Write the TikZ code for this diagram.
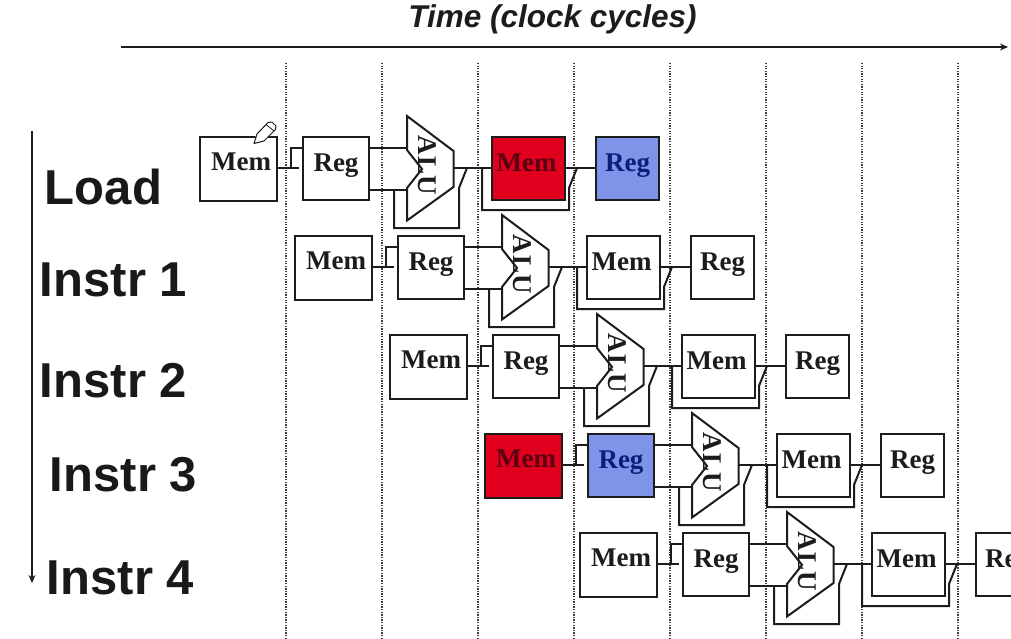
\documentclass[tikz,border=0pt]{standalone}
\usepackage{fontspec}
\setmainfont{Liberation Serif}
\newfontfamily\hdfont{Liberation Sans}
\newfontfamily\alufont[LetterSpace=5]{Liberation Serif}
\definecolor{ink}{HTML}{1C1C1C}
\definecolor{memred}{HTML}{E0001E}
\definecolor{regblue}{HTML}{7F93E8}
\definecolor{redtxt}{HTML}{5A0012}
\definecolor{bluetxt}{HTML}{0C1F78}
\tikzset{
  wire/.style={draw=ink,line width=2pt,line join=miter},
  stage/.style={draw=ink,line width=2pt,inner sep=0pt,outer sep=0pt,fill=white},
  memwide/.style={stage,minimum width=77,minimum height=64},
  regwide/.style={stage,minimum width=66,minimum height=63},
  memnar/.style={stage,minimum width=73,minimum height=63},
  regnar/.style={stage,minimum width=63,minimum height=63},
  lab/.style={font=\bfseries\fontsize{27}{27}\selectfont,inner sep=0pt,text=ink},
  alulab/.style={font=\alufont\bfseries\fontsize{27}{27}\selectfont,inner sep=0pt,text=ink},
  rowlab/.style={font=\hdfont\bfseries\fontsize{49}{49}\selectfont,inner sep=0pt,text=black!90},
  tick/.style={draw=ink!85,line width=2pt,dash pattern=on 1.3pt off 1.3pt},
  axis/.style={draw=ink,line width=1.5pt,-{Stealth[length=8pt,width=7pt]}},
}
\usetikzlibrary{arrows.meta}
% #1 name, #2 dx, #3 dy, #4 first mem fill, #5 mem text, #6 first reg fill, #7 reg text, #8 second mem fill, #9 second mem text
\newcommand{\pipeRow}[9]{%
\begin{scope}[shift={(#2,#3)}]
  \node[memwide,fill=#4] (m#1) at (238.5,169) {};
  \node[lab,text=#5] (mt#1) at (241,162) {Mem};
  \node[regwide,fill=#6] (r#1) at (336,168.5) {};
  \node[lab,text=#7] (rt#1) at (336,166) {Reg};
  \coordinate (ain#1) at (407,148);
  \coordinate (bin#1) at (407,190);
  \coordinate (aout#1) at (453.5,168);
  \coordinate (tap#1) at (291,168);
  \coordinate (stub#1) at (299,168);
  \coordinate (fa#1) at (394,190);
  \coordinate (fb#1) at (467,168);
  \coordinate (ga#1) at (482,168);
  \coordinate (gb#1) at (577,168);
  \node[memnar,fill=#8] (mm#1) at (528.5,168.5) {};
  \node[lab,text=#9] (mmt#1) at (526.5,162.5) {Mem};
  \draw[wire] (m#1.east |- tap#1) -- (stub#1);
  \draw[wire] (tap#1) -- (291,148) -- (r#1.west |- ain#1);
  \draw[wire] (r#1.east |- ain#1) -- (ain#1);
  \draw[wire] (r#1.east |- bin#1) -- (bin#1);
  \draw[wire] (fa#1) -- (394,228) -- (459,228) -- (459,188) -- (fb#1);
  \draw[wire] (407,116) -- (453.5,151) -- (453.5,187) -- (407,220.5) -- (407,188) -- (422,169) -- (407,150) -- cycle;
  \node[alulab,rotate=-90] (alu#1) at (427,165.5) {ALU};
  \draw[wire] (aout#1) -- (mm#1.west |- aout#1);
  \draw[wire] (ga#1) -- (482,210) -- (569,210) -- (569,188) -- (gb#1);
\end{scope}}
\newcommand{\lastReg}[6]{%
\begin{scope}[shift={(#2,#3)}]
  \node[regnar,fill=#4] (rr#1) at (627.5,168.5) {};
  \node[lab,text=#5] (rrt#1) at (627.5,166) {Reg};
  \draw[wire] (mm#1.east |- aout#1) -- (rr#1.west |- aout#1);
\end{scope}}
\begin{document}
\begin{tikzpicture}[x=1pt,y=-1pt]
\useasboundingbox (0,0) rectangle (1011,639);
\clip (0,0) rectangle (1011,639);
\fill[white] (0,0) rectangle (1011,639);
\foreach \px in {286,382,478,574,670,766,862,958}
  \draw[tick] (\px,63) -- (\px,639);
\node[font=\hdfont\bfseries\itshape\fontsize{31.5}{32}\selectfont,inner sep=0pt,text=ink] (title) at (552.5,19) {Time (clock cycles)};
\coordinate (tstart) at (121,47);
\coordinate (tend) at (1008,47);
\draw[axis] (tstart) -- (tend);
\coordinate (istart) at (32,131);
\coordinate (iend) at (32,583);
\draw[axis] (istart) -- (iend);
\node[rowlab,anchor=center] (l0) at (103.5,187) {Load};
\node[rowlab,anchor=center] (l1) at (113.5,279.5) {Instr 1};
\node[rowlab,anchor=center] (l2) at (113.5,380.5) {Instr 2};
\node[rowlab,anchor=center] (l3) at (123.5,474.5) {Instr 3};
\node[rowlab,anchor=center] (l4) at (120.5,578) {Instr 4};
\pipeRow{0}{0}{0}{white}{ink}{white}{ink}{memred}{redtxt}
\lastReg{0}{0}{0}{regblue}{bluetxt}{}
\pipeRow{1}{95}{99}{white}{ink}{white}{ink}{white}{ink}
\lastReg{1}{95}{99}{white}{ink}{}
\pipeRow{2}{190}{198}{white}{ink}{white}{ink}{white}{ink}
\lastReg{2}{190}{198}{white}{ink}{}
\pipeRow{3}{285}{297}{memred}{redtxt}{regblue}{bluetxt}{white}{ink}
\lastReg{3}{285}{297}{white}{ink}{}
\pipeRow{4}{380}{396}{white}{ink}{white}{ink}{white}{ink}
\lastReg{4}{380}{396}{white}{ink}{}
% pencil cursor
\fill[white] (253,133) -- (262,145) -- (268,137) -- (276,123) -- (268,120) -- cycle;
\draw[draw=ink,line width=1pt,fill=white,line join=round] (254,143.5) -- (257,134) -- (268,122.5) -- (272,122) -- (276,126) -- (275.5,129.5) -- (264,141) -- cycle;
\draw[draw=ink,line width=.8pt] (266,124.5) -- (274,131);
\end{tikzpicture}
\end{document}
